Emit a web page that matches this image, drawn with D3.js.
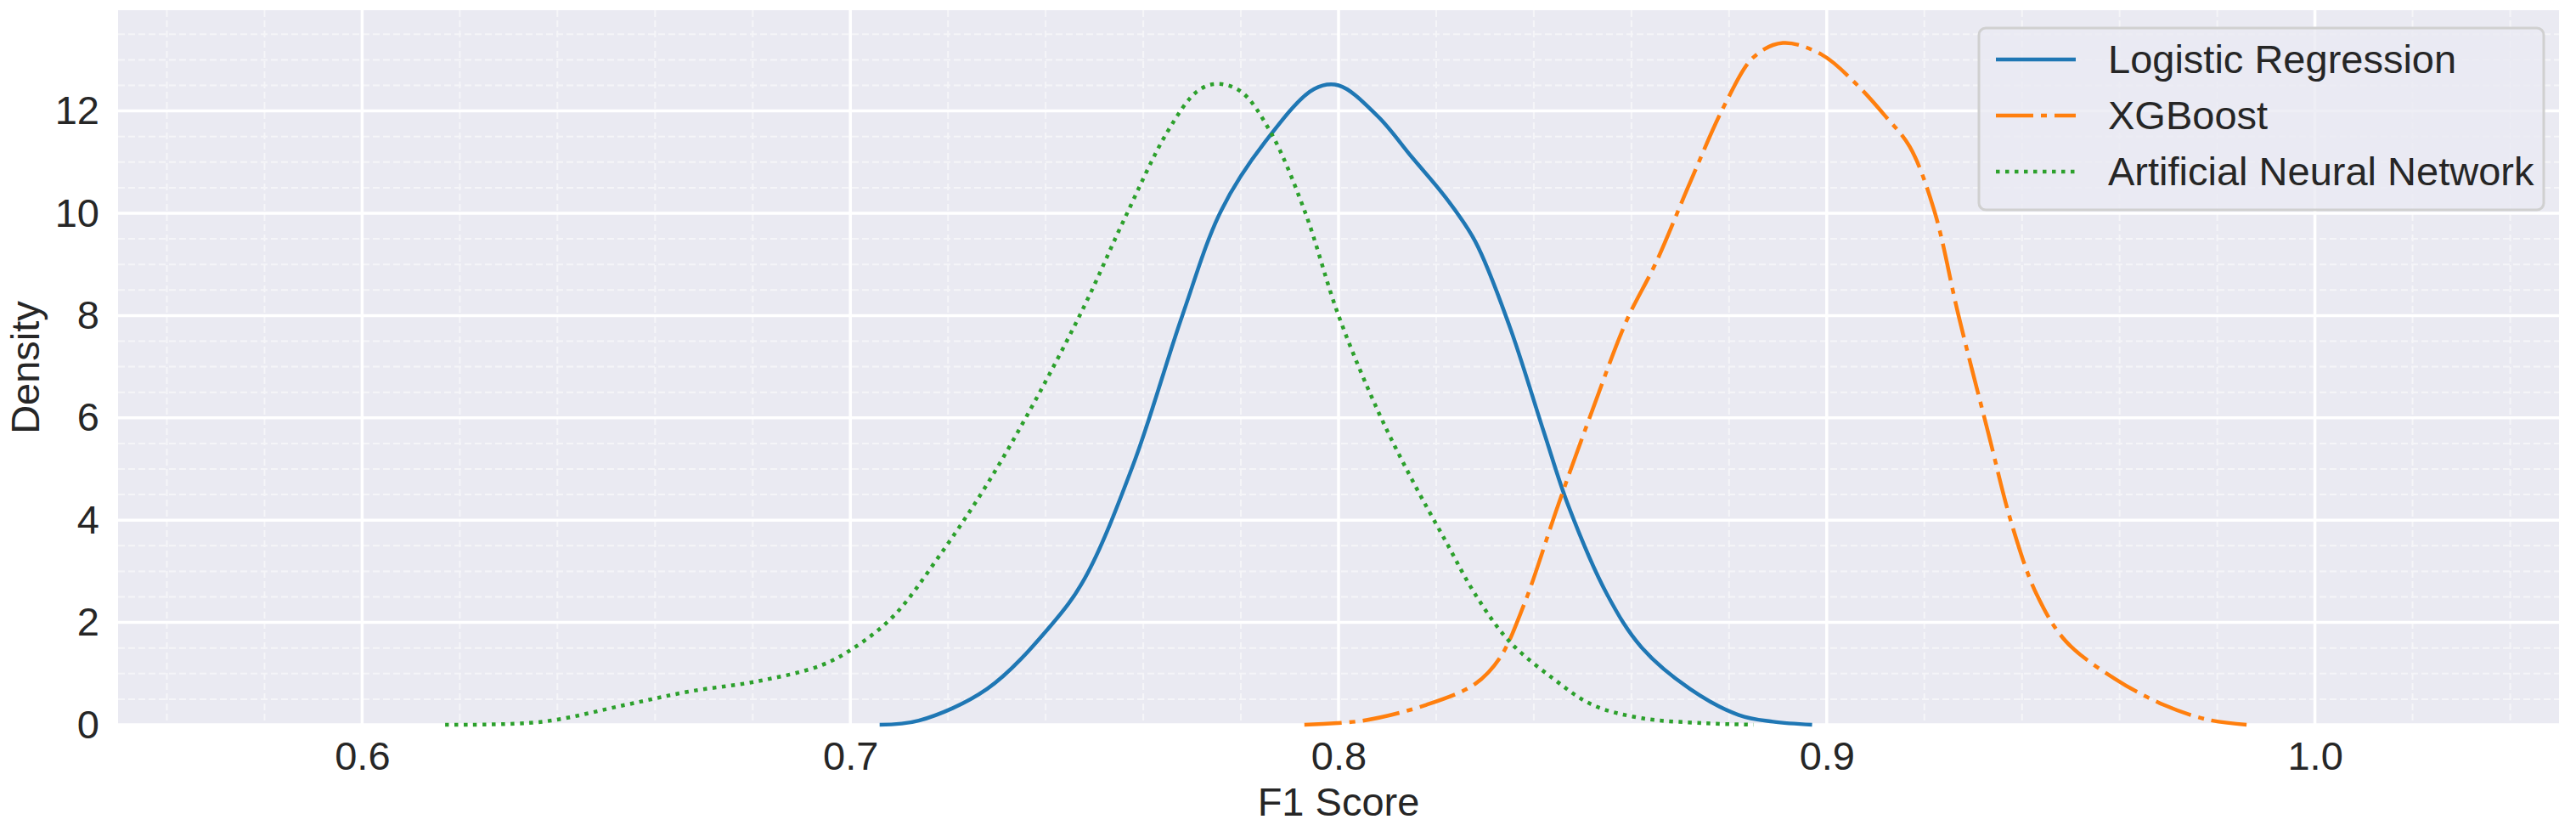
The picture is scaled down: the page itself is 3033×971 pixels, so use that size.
<!DOCTYPE html>
<html><head><meta charset="utf-8">
<script src="https://cdn.jsdelivr.net/npm/d3@7"></script>
<style>body{margin:0;background:#fff}text{font-family:"Liberation Sans",Arial,sans-serif;fill:#262626}</style>
</head><body><svg id="c" width="3033" height="971"></svg>
<script>
const seriesNames = ["Logistic Regression","XGBoost","Artificial Neural Network"];
const lrX = [0.706,0.714,0.728,0.741,0.748,0.758,0.768,0.776,0.785,0.795,0.800,0.808,0.815,0.822,0.828,0.835,0.842,0.847,0.855,0.862,0.872,0.882,0.889,0.897];
const lrY = [0,0.08,0.7,1.93,2.86,5.1,8.0,10.06,11.4,12.43,12.5,11.9,11.1,10.3,9.45,7.8,5.74,4.3,2.55,1.52,0.7,0.19,0.06,0];
const xgX = [0.793,0.805,0.818,0.828,0.833,0.838,0.845,0.852,0.859,0.865,0.872,0.879,0.885,0.891,0.899,0.906,0.912,0.917,0.922,0.927,0.933,0.938,0.943,0.949,0.959,0.969,0.978,0.986];
const xgY = [0,0.08,0.39,0.8,1.3,2.35,4.3,6.15,7.9,9.03,10.6,12.1,13.05,13.33,13.1,12.53,11.9,11.3,10.06,8.0,5.74,3.89,2.55,1.63,0.9,0.39,0.1,0];
const annX = [0.617,0.637,0.654,0.667,0.681,0.694,0.701,0.709,0.718,0.728,0.738,0.748,0.756,0.765,0.771,0.775,0.780,0.786,0.793,0.800,0.808,0.815,0.822,0.828,0.835,0.844,0.852,0.862,0.875,0.885];
const annY = [0,0.06,0.39,0.65,0.85,1.16,1.52,2.14,3.27,4.7,6.36,8.2,9.86,11.6,12.38,12.53,12.38,11.6,10.06,8.0,6.15,4.8,3.58,2.55,1.63,0.9,0.39,0.13,0.03,0];
const xTicks = [0.6,0.7,0.8,0.9,1.0];
const yTicks = [0,2,4,6,8,10,12];

const svg = d3.select("#c");
const L=139,R=3013,T=12,B=853;
const x = d3.scaleLinear().domain([0.55,1.05]).range([L,R]);
const y = d3.scaleLinear().domain([0,13.97]).range([B,T]);
svg.append("rect").attr("x",L).attr("y",T).attr("width",R-L).attr("height",B-T).attr("fill","#eaeaf2");
const g = svg.append("g");
d3.range(0.56,1.05,0.02).forEach(v=>g.append("line").attr("x1",x(v)).attr("x2",x(v)).attr("y1",T).attr("y2",B).attr("stroke","#f5f5f8").attr("stroke-width",2).attr("stroke-dasharray","8,4"));
d3.range(0,14,0.5).forEach(v=>g.append("line").attr("y1",y(v)).attr("y2",y(v)).attr("x1",L).attr("x2",R).attr("stroke","#f5f5f8").attr("stroke-width",2).attr("stroke-dasharray","8,4"));
xTicks.forEach(v=>g.append("line").attr("x1",x(v)).attr("x2",x(v)).attr("y1",T).attr("y2",B).attr("stroke","#fff").attr("stroke-width",3.5));
yTicks.forEach(v=>g.append("line").attr("y1",y(v)).attr("y2",y(v)).attr("x1",L).attr("x2",R).attr("stroke","#fff").attr("stroke-width",3.5));
const xa = svg.append("g").attr("transform",`translate(0,${B})`).call(d3.axisBottom(x).tickValues(xTicks).tickFormat(d3.format(".1f")).tickSize(0).tickPadding(20));
const ya = svg.append("g").attr("transform",`translate(${L},0)`).call(d3.axisLeft(y).tickValues(yTicks).tickSize(0).tickPadding(22));
[xa,ya].forEach(a=>{a.select(".domain").remove();a.selectAll("text").attr("font-size",47).style("font-family","Liberation Sans, Arial").attr("fill","#262626");});
svg.append("text").attr("x",(L+R)/2).attr("y",960).attr("text-anchor","middle").attr("font-size",47).text("F1 Score");
svg.append("text").attr("transform",`translate(46,${(T+B)/2}) rotate(-90)`).attr("text-anchor","middle").attr("font-size",47).text("Density");
const styles=[{c:"#1f77b4",d:null},{c:"#ff7f0e",d:"44,9,7,9"},{c:"#2ca02c",d:"4.5,6.5"}];
const data=[[lrX,lrY],[xgX,xgY],[annX,annY]];
const line=d3.line().x(d=>x(d[0])).y(d=>y(d[1])).curve(d3.curveCatmullRom.alpha(0.5));
data.forEach((s,i)=>{
  const pts=s[0].map((v,j)=>[v,s[1][j]]);
  g.append("path").attr("d",line(pts)).attr("fill","none").attr("stroke",styles[i].c).attr("stroke-width",4.5).attr("stroke-dasharray",styles[i].d);
});
const lg=svg.append("g");
lg.append("rect").attr("x",2330).attr("y",33).attr("width",665).attr("height",214).attr("rx",8).attr("fill","#eaeaf2").attr("fill-opacity",0.8).attr("stroke","#d0d0d0").attr("stroke-width",3);
seriesNames.forEach((n,i)=>{
  const yy=70+i*66;
  lg.append("line").attr("x1",2350).attr("x2",2444).attr("y1",yy).attr("y2",yy).attr("stroke",styles[i].c).attr("stroke-width",4.5).attr("stroke-dasharray",styles[i].d);
  lg.append("text").attr("x",2482).attr("y",yy).attr("dy","0.35em").attr("font-size",47).text(n);
});
</script></body></html>
